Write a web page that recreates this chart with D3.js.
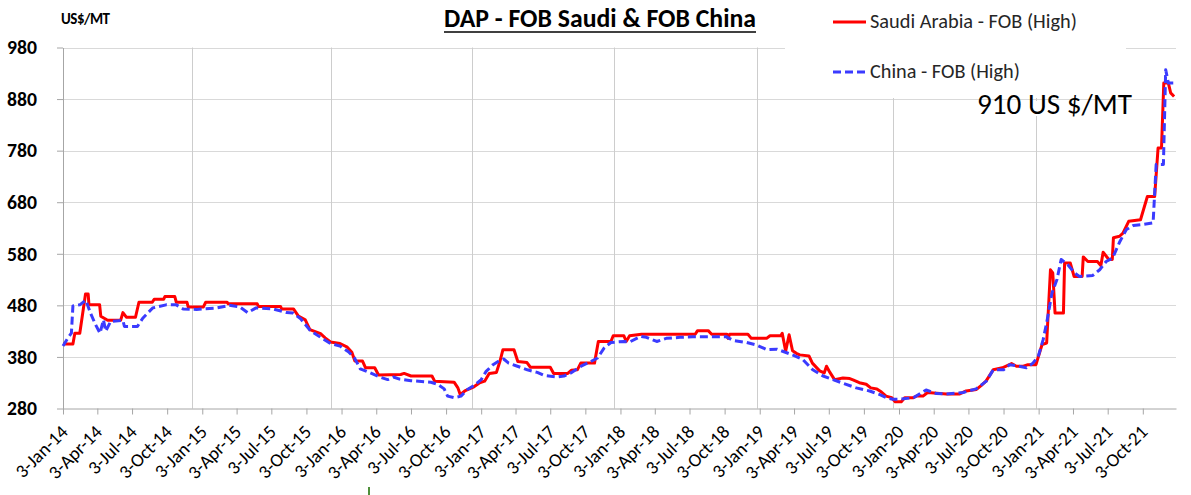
<!DOCTYPE html>
<html>
<head>
<meta charset="utf-8">
<script src="https://cdn.jsdelivr.net/npm/d3@7"></script>
<style>
  html, body { margin: 0; padding: 0; background: #fff; }
  svg { display: block; }
  text { font-family: Carlito, Lato, "Open Sans", sans-serif; }
</style>
</head>
<body>
<svg id="chart" width="1191" height="495"></svg>
<script>
// ---------------- DATA ----------------
const titleText = "DAP - FOB Saudi & FOB China";
const unitLabel = "US$/MT";
const seriesNames = ["Saudi Arabia - FOB (High)", "China - FOB (High)"];
const annotationText = "910 US $/MT";

const yTicks = [280, 380, 480, 580, 680, 780, 880, 980];

const xTickLabels = [
  "3-Jan-14","3-Apr-14","3-Jul-14","3-Oct-14",
  "3-Jan-15","3-Apr-15","3-Jul-15","3-Oct-15",
  "3-Jan-16","3-Apr-16","3-Jul-16","3-Oct-16",
  "3-Jan-17","3-Apr-17","3-Jul-17","3-Oct-17",
  "3-Jan-18","3-Apr-18","3-Jul-18","3-Oct-18",
  "3-Jan-19","3-Apr-19","3-Jul-19","3-Oct-19",
  "3-Jan-20","3-Apr-20","3-Jul-20","3-Oct-20",
  "3-Jan-21","3-Apr-21","3-Jul-21","3-Oct-21"
];

// vertical gridline dates (as seen in the picture)
const vGridDates = ["2014-12-07","2015-12-06","2016-12-09","2017-12-17","2018-12-27","2019-12-19","2020-12-28"];

const saudiDates = [
  "2014-01-03","2014-01-29","2014-02-03","2014-02-16","2014-03-03","2014-03-10","2014-03-12","2014-04-09",
  "2014-04-12","2014-04-30","2014-06-03","2014-06-09","2014-06-18","2014-07-12","2014-07-21","2014-08-25",
  "2014-08-30","2014-09-24","2014-09-27","2014-10-23","2014-10-27","2014-11-24","2014-11-27","2015-01-06",
  "2015-01-12","2015-03-09","2015-03-12","2015-05-27","2015-05-30","2015-07-27","2015-07-30","2015-08-30",
  "2015-09-12","2015-09-30","2015-10-12","2015-11-09","2015-11-21","2015-12-05","2015-12-30","2016-01-18",
  "2016-01-30","2016-02-07","2016-02-27","2016-03-06","2016-03-30","2016-04-09","2016-06-06","2016-06-15",
  "2016-07-03","2016-08-27","2016-09-03","2016-10-24","2016-11-03","2016-11-09","2016-11-21","2016-12-15",
  "2016-12-30","2017-01-12","2017-01-24","2017-02-12","2017-02-21","2017-03-01","2017-03-30","2017-04-09",
  "2017-05-03","2017-05-12","2017-07-03","2017-07-12","2017-08-18","2017-08-27","2017-09-12","2017-09-21",
  "2017-10-27","2017-11-06","2017-12-09","2017-12-15","2018-01-12","2018-01-18","2018-01-27","2018-02-27",
  "2018-07-18","2018-07-24","2018-08-21","2018-08-30","2018-10-09","2018-10-12","2018-10-16","2018-12-03",
  "2018-12-12","2019-01-21","2019-01-30","2019-02-27","2019-03-03","2019-03-12","2019-03-21","2019-03-30",
  "2019-04-09","2019-04-18","2019-05-12","2019-05-21","2019-06-09","2019-06-21","2019-06-27","2019-07-06",
  "2019-07-18","2019-08-09","2019-08-27","2019-09-06","2019-09-21","2019-10-09","2019-10-21","2019-11-06",
  "2019-11-18","2019-11-30","2019-12-15","2019-12-24","2020-01-09","2020-01-18","2020-02-09","2020-02-18",
  "2020-03-06","2020-03-18","2020-05-06","2020-06-09","2020-06-27","2020-07-24","2020-08-06","2020-08-18",
  "2020-09-06","2020-09-30","2020-10-24","2020-11-06","2020-11-24","2020-12-06","2020-12-27","2021-01-12",
  "2021-01-24","2021-02-03","2021-02-09","2021-02-15","2021-03-09","2021-03-12","2021-03-27","2021-04-06",
  "2021-04-27","2021-04-30","2021-05-12","2021-06-06","2021-06-15","2021-06-21","2021-07-06","2021-07-15",
  "2021-07-18","2021-08-03","2021-08-12","2021-08-27","2021-09-27","2021-10-15","2021-11-03","2021-11-12",
  "2021-11-21","2021-11-27","2021-12-09","2021-12-15","2021-12-24"
];
const saudiValues = [
  405,405,426,426,502,502,481,481,
  459,451,451,466,457,457,486,486,
  492,492,497,497,486,486,477,477,
  486,486,483,483,478,478,473,473,
  459,452,433,425,417,409,406,399,
  389,372,372,359,359,345,346,348,
  343,343,333,331,320,307,314,322,
  330,333,348,350,371,394,394,371,
  369,360,360,348,348,354,355,368,
  368,410,410,421,421,410,421,424,
  424,431,431,424,424,416,424,424,
  416,416,421,421,426,391,423,392,
  387,384,382,368,353,349,362,350,
  336,339,338,335,330,327,320,318,
  312,304,301,293,293,301,301,304,
  304,311,308,308,314,317,325,333,
  355,359,367,362,362,365,365,404,
  407,549,543,465,465,562,562,536,
  536,574,565,565,557,583,569,569,
  611,614,620,643,646,691,691,785,
  785,911,911,892,885
];

const chinaDates = [
  "2014-01-03","2014-01-16","2014-01-25","2014-01-29","2014-02-16","2014-03-04","2014-03-16","2014-03-29",
  "2014-04-10","2014-04-19","2014-04-25","2014-05-08","2014-06-09","2014-06-13","2014-07-17","2014-07-31",
  "2014-08-26","2014-09-30","2014-10-27","2014-11-14","2014-12-19","2015-02-11","2015-03-15","2015-04-11",
  "2015-05-02","2015-05-24","2015-07-08","2015-08-12","2015-08-29","2015-09-18","2015-10-12","2015-11-09",
  "2015-12-05","2015-12-30","2016-01-21","2016-02-06","2016-02-21","2016-03-15","2016-04-12","2016-05-03",
  "2016-05-18","2016-06-03","2016-07-03","2016-08-24","2016-09-11","2016-09-28","2016-10-07","2016-10-24",
  "2016-11-11","2016-11-28","2016-12-16","2017-01-03","2017-01-16","2017-02-03","2017-02-20","2017-03-03",
  "2017-03-16","2017-04-08","2017-05-04","2017-05-30","2017-06-17","2017-07-21","2017-08-08","2017-08-26",
  "2017-09-22","2017-10-17","2017-11-04","2017-11-21","2017-12-09","2018-01-12","2018-01-27","2018-02-25",
  "2018-03-12","2018-04-08","2018-05-03","2018-06-08","2018-07-12","2018-10-08","2018-10-25","2018-11-30",
  "2018-12-26","2019-01-22","2019-02-17","2019-03-04","2019-03-30","2019-04-26","2019-05-22","2019-06-18",
  "2019-07-14","2019-08-09","2019-09-13","2019-10-18","2019-11-14","2019-12-01","2019-12-18","2020-01-05",
  "2020-02-10","2020-03-14","2020-04-10","2020-05-06","2020-06-19","2020-07-23","2020-08-19","2020-09-06",
  "2020-10-03","2020-10-19","2020-11-06","2020-12-02","2020-12-19","2021-01-02","2021-01-15","2021-01-24",
  "2021-02-07","2021-02-20","2021-03-03","2021-03-20","2021-04-07","2021-04-20","2021-05-25","2021-06-12",
  "2021-06-29","2021-07-16","2021-08-04","2021-08-21","2021-09-08","2021-10-04","2021-10-30","2021-11-07",
  "2021-11-26","2021-12-02","2021-12-09","2021-12-27"
];
const chinaValues = [
  401,417,426,479,481,490,465,443,
  426,452,430,449,451,439,439,455,
  475,481,481,473,472,475,480,477,
  466,475,473,466,465,454,432,418,
  406,401,390,378,357,350,341,336,
  341,337,334,331,327,318,304,301,
  304,317,325,336,352,365,373,376,
  368,362,355,350,344,341,343,349,
  362,371,378,397,408,410,409,420,
  418,410,416,418,419,419,412,408,
  403,394,395,391,384,375,355,343,
  336,329,320,314,307,301,298,298,
  301,316,309,308,311,318,333,355,
  355,365,363,359,368,381,414,446,
  504,530,569,559,543,536,538,549,
  565,572,604,627,635,637,640,753,
  753,937,911,911
];

// ---------------- CHART ----------------
const W = 1191, H = 495;
const svg = d3.select("#chart");
svg.append("rect").attr("width", W).attr("height", H).attr("fill", "#fff");

const parseISO = d3.timeParse("%Y-%m-%d");
const parseTick = d3.timeParse("%d-%b-%y");

const x = d3.scaleTime()
  .domain([parseISO("2014-01-03"), parseISO("2021-12-29")])
  .range([63, 1176]);
const y = d3.scaleLinear().domain([280, 980]).range([408.5, 47.5]);

const tickDates = xTickLabels.map(parseTick);

// helper: font size that makes a text reach a given width
function fitSize(sel, w) {
  const len = sel.node().getComputedTextLength();
  const fs = parseFloat(sel.attr("font-size"));
  return len > 0 ? fs * w / len : fs;
}
function fitWidth(sel, w) { sel.attr("font-size", fitSize(sel, w).toFixed(2)); }

// horizontal gridlines
svg.append("g").selectAll("line").data(yTicks.filter(v => v !== 280)).join("line")
  .attr("x1", 63).attr("x2", 1176)
  .attr("y1", d => Math.round(y(d)) + 0.5).attr("y2", d => Math.round(y(d)) + 0.5)
  .attr("stroke", "#d9d9d9").attr("stroke-width", 1);

// vertical gridlines
svg.append("g").selectAll("line").data(vGridDates.map(parseISO)).join("line")
  .attr("x1", d => Math.round(x(d)) + 0.5).attr("x2", d => Math.round(x(d)) + 0.5)
  .attr("y1", y(980)).attr("y2", y(280))
  .attr("stroke", "#cdcdcd").attr("stroke-width", 1);

// legend background box and annotation background
svg.append("rect").attr("x", 785).attr("y", 0).attr("width", 341).attr("height", 98).attr("fill", "#fff");
svg.append("rect").attr("x", 975).attr("y", 101).attr("width", 160).attr("height", 15).attr("fill", "#fff");

// y axis
const yAxis = svg.append("g").attr("transform", "translate(63,0)")
  .call(d3.axisLeft(y).tickValues(yTicks).tickSize(6).tickSizeOuter(0).tickPadding(20).tickFormat(d3.format("d")));
yAxis.attr("font-size", null).attr("font-family", null);
yAxis.select(".domain").attr("stroke", "#a6a6a6");
yAxis.selectAll(".tick line").attr("stroke", "#a6a6a6");
const yLab = yAxis.selectAll(".tick text")
  .attr("font-size", 17).attr("font-weight", "bold").attr("fill", "#000");
const ySize = fitSize(d3.select(yLab.nodes()[yLab.size() - 1]), 30);
yLab.attr("font-size", ySize.toFixed(2));

// x axis
const xAxis = svg.append("g").attr("transform", "translate(0,408.5)")
  .call(d3.axisBottom(x).tickValues(tickDates).tickSize(6).tickSizeOuter(0).tickFormat(""));
xAxis.select(".domain").attr("stroke", "#a6a6a6");
xAxis.selectAll(".tick line").attr("stroke", "#a6a6a6");

const xl = svg.append("g").selectAll("text").data(tickDates).join("text")
  .attr("transform", d => `translate(${x(d) + 6},${433}) rotate(-45)`)
  .attr("text-anchor", "end")
  .attr("font-size", 17)
  .attr("fill", "#000")
  .text((d, i) => xTickLabels[i]);
const xSize = fitSize(d3.select(xl.nodes()[0]), 65);
xl.attr("font-size", xSize.toFixed(2));

// lines
const line = d3.line().x(d => x(d.date)).y(d => y(d.value));
const saudi = saudiDates.map((d, i) => ({ date: parseISO(d), value: saudiValues[i] }));
const china = chinaDates.map((d, i) => ({ date: parseISO(d), value: chinaValues[i] }));

svg.append("path").datum(saudi).attr("d", line)
  .attr("fill", "none").attr("stroke", "#ff0000").attr("stroke-width", 3)
  .attr("stroke-linejoin", "round");
svg.append("path").datum(china).attr("d", line)
  .attr("fill", "none").attr("stroke", "#3b3bff").attr("stroke-width", 3)
  .attr("stroke-dasharray", "8,4").attr("stroke-linejoin", "round");

// title
const title = svg.append("text").attr("x", 600).attr("y", 27).attr("text-anchor", "middle")
  .attr("font-size", 20).attr("font-weight", "bold").attr("fill", "#000").text(titleText);
fitWidth(title, 312);
const tb = title.node().getBBox();
svg.append("line").attr("x1", tb.x).attr("x2", tb.x + tb.width).attr("y1", 32).attr("y2", 32)
  .attr("stroke", "#000").attr("stroke-width", 1.6);

// unit label
const unit = svg.append("text").attr("x", 61).attr("y", 24).attr("font-size", 13)
  .attr("font-weight", "bold").attr("fill", "#000").attr("letter-spacing", -0.5).text(unitLabel);
fitWidth(unit, 48);

// legend
svg.append("line").attr("x1", 833).attr("x2", 866).attr("y1", 22).attr("y2", 22)
  .attr("stroke", "#ff0000").attr("stroke-width", 3);
const lt1 = svg.append("text").attr("x", 870).attr("y", 28).attr("font-size", 17)
  .attr("fill", "#262626").text(seriesNames[0]);
fitWidth(lt1, 207);
svg.append("line").attr("x1", 833).attr("x2", 865).attr("y1", 72).attr("y2", 72)
  .attr("stroke", "#3b3bff").attr("stroke-width", 3).attr("stroke-dasharray", "8,4");
const lt2 = svg.append("text").attr("x", 870).attr("y", 78).attr("font-size", 17)
  .attr("fill", "#262626").text(seriesNames[1]);
fitWidth(lt2, 150);

// annotation
const ann = svg.append("text").attr("x", 977).attr("y", 114).attr("font-size", 23)
  .attr("fill", "#000").text(annotationText);
fitWidth(ann, 155);

// small green mark at bottom
svg.append("line").attr("x1", 369).attr("x2", 369).attr("y1", 487).attr("y2", 495)
  .attr("stroke", "#4f8f3a").attr("stroke-width", 2);
</script>
</body>
</html>
